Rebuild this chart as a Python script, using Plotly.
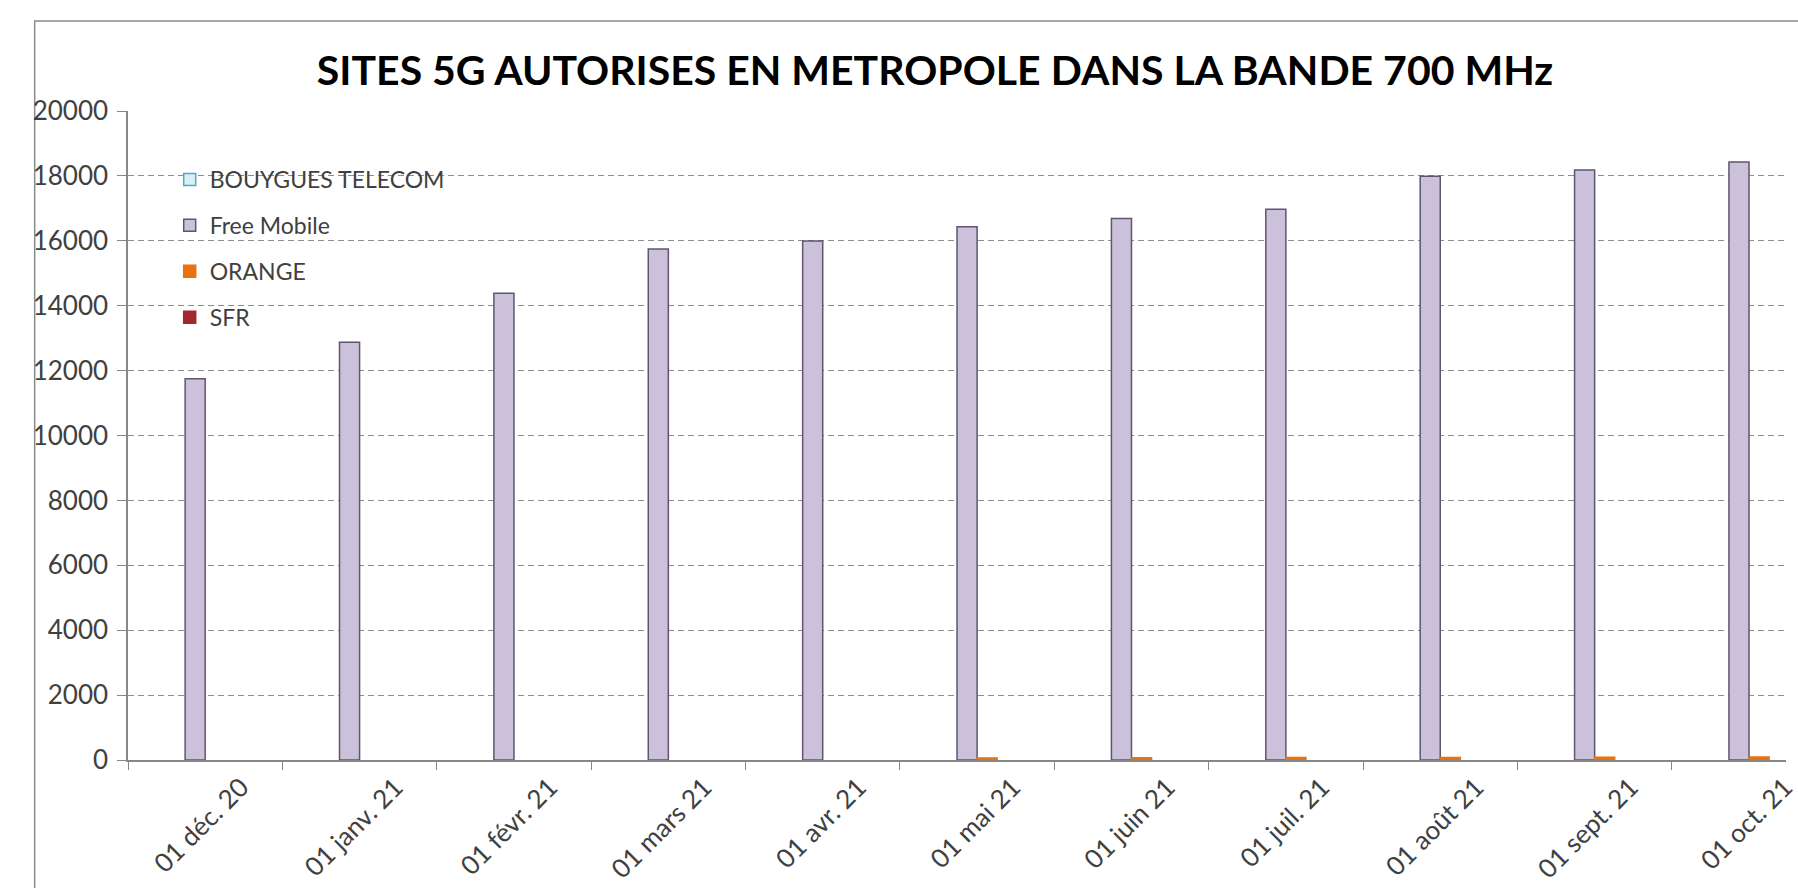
import plotly.graph_objects as go

categories = ["01 déc. 20", "01 janv. 21", "01 févr. 21", "01 mars 21", "01 avr. 21",
              "01 mai 21", "01 juin 21", "01 juil. 21", "01 août 21", "01 sept. 21", "01 oct. 21"]
bouygues = [None] * 11
free_mobile = [11750, 12870, 14380, 15750, 15990, 16430, 16690, 16975, 17990, 18185, 18425]
orange = [None, None, None, None, None, 60, 70, 75, 80, 85, 90]
sfr = [None] * 11
y_ticks = [0, 2000, 4000, 6000, 8000, 10000, 12000, 14000, 16000, 18000, 20000]

FONT = "Lato"
TXT = "#404040"

fig = go.Figure()
series = [
    ("BOUYGUES TELECOM", bouygues, "#dbeef4", "#4bacc6"),
    ("Free Mobile", free_mobile, "#ccc1da", "#5f5570"),
    ("ORANGE", orange, "#e9720f", "#e9720f"),
    ("SFR", sfr, "#a0282e", "#a0282e"),
]
for name, vals, fill, line in series:
    fig.add_trace(go.Bar(
        name=name, x=categories, y=vals, legendgroup=name,
        marker=dict(color=fill, line=dict(color=line, width=1.5)),
    ))

W, H = 1798, 888
L, T, B = 128, 111, 128
plot_w = W - L
plot_h = H - T - B

fig.update_layout(
    width=W, height=H,
    margin=dict(l=L, r=0, t=T, b=B, pad=0),
    paper_bgcolor="white", plot_bgcolor="white",
    barmode="group", bargap=0.48, bargroupgap=0,
    font=dict(family=FONT, color=TXT, size=22),
    title=dict(text="<b>SITES 5G AUTORISES EN METROPOLE DANS LA BANDE 700 MHz</b>",
               x=935 / W, xref="container", xanchor="center",
               y=1 - 71 / H, yref="container", yanchor="middle",
               font=dict(family=FONT, size=41, color="black")),
    legend=dict(x=(170 - L) / plot_w, y=1 - (158 - T) / plot_h, xanchor="left", yanchor="top",
                bgcolor="rgba(0,0,0,0)", font=dict(family=FONT, size=23, color=TXT),
                tracegroupgap=13, traceorder="grouped"),
    showlegend=True,
    xaxis=dict(
        type="category", range=[-0.5, -0.5 + plot_w / 155.5],
        showline=True, linecolor="#868686", linewidth=1.5,
        ticks="outside", ticklen=8, tickcolor="#868686", tickson="boundaries",
        tickangle=-45, tickfont=dict(family=FONT, size=26, color=TXT),
        showgrid=False, zeroline=False, ticklabelshift=36, ticklabelstandoff=0,
    ),
    yaxis=dict(
        range=[0, 20000], tickvals=y_ticks, tickformat="d",
        showline=True, linecolor="#868686", linewidth=1.5,
        ticks="outside", ticklen=9, tickcolor="#868686",
        tickfont=dict(family=FONT, size=26, color=TXT), ticklabelstandoff=4,
        showgrid=True, gridcolor="#8c8c8c", gridwidth=1, griddash="6px,4px",
        zeroline=False,
    ),
    shapes=[dict(
        type="rect", xref="paper", yref="paper",
        x0=(34 - L) / plot_w, x1=1.2,
        y0=-0.5, y1=1 + (T - 21) / plot_h,
        line=dict(color="#8a8a8a", width=1.5), fillcolor="rgba(0,0,0,0)", layer="below",
    )],
)

fig.write_html("out.html", config={"displayModeBar": False},
               post_script="document.body.style.margin='0';document.body.style.overflow='hidden';")
